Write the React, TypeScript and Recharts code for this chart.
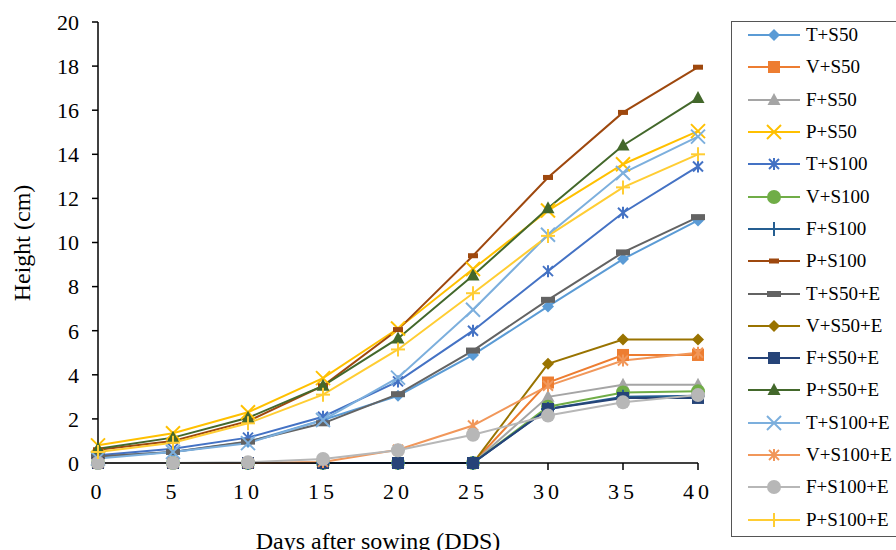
import React from 'react'
import { LineChart, Line, XAxis, YAxis } from 'recharts'

const days = [0, 5, 10, 15, 20, 25, 30, 35, 40]
const dayTicks = [0, 5, 10, 15, 20, 25, 30, 35, 40]
const heightTicks = [0, 2, 4, 6, 8, 10, 12, 14, 16, 18, 20]

const tS50 = [0.3, 0.5, 0.95, 1.95, 3.05, 4.9, 7.1, 9.25, 11.0]
const vS50 = [0, 0, 0, 0, 0, 0, 3.65, 4.9, 4.9]
const fS50 = [0, 0, 0, 0, 0, 0, 3.0, 3.55, 3.55]
const pS50 = [0.8, 1.35, 2.3, 3.85, 6.1, 8.8, 11.45, 13.55, 15.05]
const tS100 = [0.35, 0.65, 1.15, 2.1, 3.7, 6.0, 8.7, 11.35, 13.45]
const vS100 = [0, 0, 0, 0, 0, 0, 2.55, 3.2, 3.25]
const fS100 = [0, 0, 0, 0, 0, 0, 2.45, 3.0, 3.05]
const pS100 = [0.6, 1.0, 1.9, 3.5, 6.05, 9.4, 12.95, 15.9, 17.95]
const tS50E = [0.3, 0.5, 0.97, 1.8, 3.12, 5.1, 7.4, 9.55, 11.15]
const vS50E = [0, 0, 0, 0, 0, 0, 4.5, 5.6, 5.6]
const fS50E = [0, 0, 0, 0, 0, 0, 2.45, 2.95, 2.95]
const pS50E = [0.65, 1.15, 2.05, 3.5, 5.65, 8.5, 11.55, 14.4, 16.55]
const tS100E = [0.2, 0.5, 0.9, 1.95, 3.87, 6.95, 10.35, 13.15, 14.8]
const vS100E = [0, 0, 0, 0.05, 0.6, 1.7, 3.5, 4.65, 5.0]
const fS100E = [0, 0, 0.03, 0.18, 0.58, 1.28, 2.15, 2.75, 3.08]
const pS100E = [0.5, 0.92, 1.8, 3.1, 5.15, 7.7, 10.3, 12.5, 14.0]

type Shape = 'diamond' | 'square' | 'triangle' | 'x' | 'star' | 'circle' | 'plus' | 'dash' | 'wideDash'

const series: { name: string; values: number[]; color: string; shape: Shape }[] = [
  { name: 'T+S50', values: tS50, color: '#5B9BD5', shape: 'diamond' },
  { name: 'V+S50', values: vS50, color: '#ED7D31', shape: 'square' },
  { name: 'F+S50', values: fS50, color: '#A5A5A5', shape: 'triangle' },
  { name: 'P+S50', values: pS50, color: '#FFC000', shape: 'x' },
  { name: 'T+S100', values: tS100, color: '#4472C4', shape: 'star' },
  { name: 'V+S100', values: vS100, color: '#70AD47', shape: 'circle' },
  { name: 'F+S100', values: fS100, color: '#255E91', shape: 'plus' },
  { name: 'P+S100', values: pS100, color: '#9E480E', shape: 'dash' },
  { name: 'T+S50+E', values: tS50E, color: '#636363', shape: 'wideDash' },
  { name: 'V+S50+E', values: vS50E, color: '#997300', shape: 'diamond' },
  { name: 'F+S50+E', values: fS50E, color: '#264478', shape: 'square' },
  { name: 'P+S50+E', values: pS50E, color: '#43682B', shape: 'triangle' },
  { name: 'T+S100+E', values: tS100E, color: '#7CAFDD', shape: 'x' },
  { name: 'V+S100+E', values: vS100E, color: '#F1975A', shape: 'star' },
  { name: 'F+S100+E', values: fS100E, color: '#B7B7B7', shape: 'circle' },
  { name: 'P+S100+E', values: pS100E, color: '#FFCD33', shape: 'plus' },
]

const data = days.map((d, i) => {
  const row: Record<string, number> = { day: d }
  series.forEach((s) => (row[s.name] = s.values[i]))
  return row
})

const serif = "'Liberation Serif', 'Times New Roman', serif"

function Marker({ shape, cx, cy, color }: { shape: Shape; cx: number; cy: number; color: string }) {
  switch (shape) {
    case 'diamond':
      return <polygon points={`${cx},${cy - 6} ${cx + 6},${cy} ${cx},${cy + 6} ${cx - 6},${cy}`} fill={color} />
    case 'square':
      return <rect x={cx - 6} y={cy - 6} width={12} height={12} fill={color} />
    case 'triangle':
      return <polygon points={`${cx},${cy - 7} ${cx + 6.5},${cy + 5} ${cx - 6.5},${cy + 5}`} fill={color} />
    case 'x':
      return (
        <g stroke={color} strokeWidth={2}>
          <line x1={cx - 7} y1={cy - 7} x2={cx + 7} y2={cy + 7} />
          <line x1={cx - 7} y1={cy + 7} x2={cx + 7} y2={cy - 7} />
        </g>
      )
    case 'star':
      return (
        <g stroke={color} strokeWidth={2}>
          <line x1={cx - 5} y1={cy - 5} x2={cx + 5} y2={cy + 5} />
          <line x1={cx - 5} y1={cy + 5} x2={cx + 5} y2={cy - 5} />
          <line x1={cx} y1={cy - 6} x2={cx} y2={cy + 6} />
        </g>
      )
    case 'circle':
      return <circle cx={cx} cy={cy} r={7} fill={color} />
    case 'plus':
      return (
        <g stroke={color} strokeWidth={2}>
          <line x1={cx - 7} y1={cy} x2={cx + 7} y2={cy} />
          <line x1={cx} y1={cy - 7} x2={cx} y2={cy + 7} />
        </g>
      )
    case 'dash':
      return <rect x={cx - 5} y={cy - 2.5} width={10} height={5} fill={color} />
    case 'wideDash':
      return <rect x={cx - 7} y={cy - 3} width={14} height={6} fill={color} />
  }
}

function ChartLegend() {
  return (
    <div
      style={{
        position: 'absolute',
        left: 731,
        top: 21,
        width: 180,
        height: 516,
        border: '1.5px solid #555',
        boxSizing: 'border-box',
      }}
    >
      <div style={{ marginTop: -3 }}>
        {series.map((s) => (
          <div key={s.name} style={{ display: 'flex', alignItems: 'center', height: 32.3 }}>
            <svg width={74} height={20} style={{ flex: 'none' }}>
              <line x1={16} y1={10} x2={68} y2={10} stroke={s.color} strokeWidth={2} />
              <Marker shape={s.shape} cx={42} cy={10} color={s.color} />
            </svg>
            <span style={{ fontFamily: serif, fontSize: 19, color: '#000', whiteSpace: 'nowrap' }}>{s.name}</span>
          </div>
        ))}
      </div>
    </div>
  )
}

export default function App() {
  return (
    <div style={{ position: 'absolute', left: 0, top: 0, width: 896, height: 550, overflow: 'hidden', background: '#fff' }}>
      <LineChart width={896} height={550} data={data} margin={{ top: 22, right: 198, left: 38, bottom: 57 }}>
        <XAxis
          dataKey="day"
          type="number"
          domain={[0, 40]}
          ticks={dayTicks}
          tickSize={7}
          tickMargin={13}
          stroke="#000"
          strokeWidth={1.5}
          tick={{ fill: '#000', fontSize: 22, fontFamily: serif, letterSpacing: 4 }}
          interval={0}
          height={30}
        />
        <YAxis
          type="number"
          domain={[0, 20]}
          ticks={heightTicks}
          tickSize={6}
          tickMargin={13}
          stroke="#000"
          strokeWidth={1.5}
          tick={{ fill: '#000', fontSize: 22, fontFamily: serif }}
          interval={0}
          width={60}
        />
        {series.map((s) => (
          <Line
            key={s.name}
            type="linear"
            dataKey={s.name}
            stroke={s.color}
            strokeWidth={2}
            isAnimationActive={false}
            dot={(p: any) => <Marker key={`${s.name}-${p.index}`} shape={s.shape} cx={p.cx} cy={p.cy} color={s.color} />}
            activeDot={false}
          />
        ))}
      </LineChart>
      <ChartLegend />
      <div
        style={{
          position: 'absolute',
          left: 22,
          top: 243,
          transform: 'translate(-50%, -50%) rotate(-90deg)',
          fontFamily: serif,
          fontSize: 24,
          whiteSpace: 'nowrap',
        }}
      >
        Height (cm)
      </div>
      <div
        style={{
          position: 'absolute',
          left: 378,
          top: 528,
          transform: 'translateX(-50%)',
          fontFamily: serif,
          fontSize: 24,
          whiteSpace: 'nowrap',
        }}
      >
        Days after sowing (DDS)
      </div>
    </div>
  )
}
